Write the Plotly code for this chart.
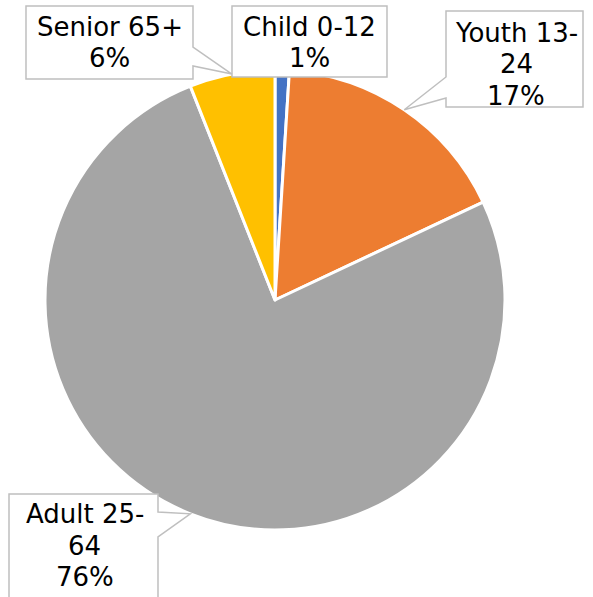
import math
import plotly.graph_objects as go

# Age group shares (percent)
groups = ["Child 0-12", "Youth 13-24", "Adult 25-64", "Senior 65+"]
label_lines = [["Child 0-12"], ["Youth 13-", "24"], ["Adult 25-", "64"], ["Senior 65+"]]
shares = [1, 17, 76, 6]
colors = ["#4472C4", "#ED7D31", "#A5A5A5", "#FFC000"]

W, H = 593, 597
CX, CY, R = 275, 300, 230  # pie centre and radius in pixels
LINE_H = 31.5               # label line spacing in pixels

# Callout boxes in pixels: (x0, y0, x1, y1), pointer side, pointer base span, text centre
callouts = {
    "Child 0-12":  dict(box=(232, 6, 387, 77), side=None, base=None, text=(309.5, 42.5)),
    "Youth 13-24": dict(box=(446, 11, 583, 107), side="left", base=(77, 98), text=(516, 64.5)),
    "Adult 25-64": dict(box=(9, 494, 158, 640), side="right", base=(512, 537), text=(84.5, 545.5)),
    "Senior 65+":  dict(box=(26, 6, 193, 79), side="right", base=(47, 66), text=(109.5, 42.5)),
}


def px(x, y):
    return x / W, 1 - y / H


def callout_path(box, side, base, tip):
    x0, y0, x1, y1 = box
    pts = [(x0, y0), (x1, y0)]
    if side == "right":
        pts += [(x1, base[0]), tip, (x1, base[1])]
    pts += [(x1, y1), (x0, y1)]
    if side == "left":
        pts += [(x0, base[1]), tip, (x0, base[0])]
    coords = [px(*p) for p in pts]
    return "M " + " L ".join(f"{a:.5f},{b:.5f}" for a, b in coords) + " Z"


fig = go.Figure(go.Pie(
    labels=groups,
    values=shares,
    sort=False,
    direction="clockwise",
    rotation=0,
    marker=dict(colors=colors, line=dict(color="white", width=3)),
    textinfo="none",
    hoverinfo="label+percent",
    domain=dict(x=[(CX - R) / W, (CX + R) / W], y=[1 - (CY + R) / H, 1 - (CY - R) / H]),
    showlegend=False,
))

total = sum(shares)
cum = 0
shapes, annotations = [], []
for name, lines, v in zip(groups, label_lines, shares):
    mid = (cum + v / 2) / total * 2 * math.pi
    cum += v
    tip = (CX + R * math.sin(mid), CY - R * math.cos(mid))
    c = callouts[name]
    shapes.append(dict(
        type="path", xref="paper", yref="paper",
        path=callout_path(c["box"], c["side"], c["base"], tip),
        fillcolor="white", line=dict(color="#BFBFBF", width=1.5), layer="above",
    ))
    rows = lines + [f"{round(v / total * 100)}%"]
    cx, cy = c["text"]
    for i, row in enumerate(rows):
        ry = cy + (i - (len(rows) - 1) / 2) * LINE_H
        tx, ty = px(cx, ry)
        annotations.append(dict(
            xref="paper", yref="paper", x=tx, y=ty, xanchor="center", yanchor="middle",
            text=row, showarrow=False,
            font=dict(family="DejaVu Sans", size=26, color="black"), align="center",
        ))

fig.update_layout(
    width=W, height=H,
    margin=dict(l=0, r=0, t=0, b=0),
    paper_bgcolor="white", plot_bgcolor="white",
    shapes=shapes, annotations=annotations,
)

fig.write_html("out.html")
